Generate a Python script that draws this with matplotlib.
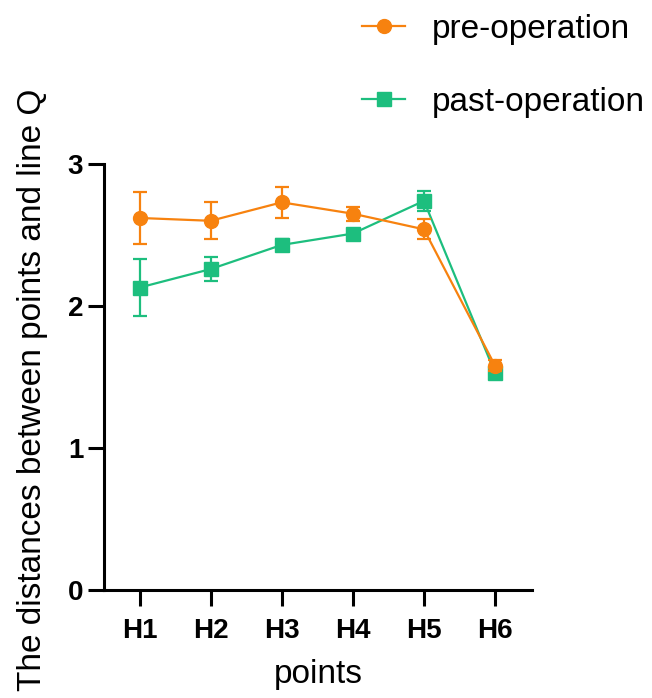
import matplotlib
matplotlib.use("Agg")
import matplotlib.pyplot as plt
from matplotlib.lines import Line2D

points = ["H1", "H2", "H3", "H4", "H5", "H6"]
pre_mean = [2.62, 2.60, 2.73, 2.65, 2.54, 1.58]
pre_err = [0.18, 0.13, 0.11, 0.05, 0.07, 0.04]
past_mean = [2.13, 2.26, 2.43, 2.51, 2.74, 1.53]
past_err = [0.20, 0.085, 0.045, 0.02, 0.07, 0.02]
yticks = [0, 1, 2, 3]

orange = "#F7820F"
green = "#1DBE7E"

plt.rcParams['font.family'] = ['Liberation Sans', 'DejaVu Sans']

fig = plt.figure(figsize=(6.52, 6.98), dpi=100)
ax = fig.add_axes([104/652, 1-590/698, (532-104)/652, (590-164)/698])

x = list(range(len(points)))
ax.errorbar(x, pre_mean, yerr=pre_err, color=orange, marker='o', markersize=10,
            linewidth=1.6, elinewidth=1.6, capsize=5, capthick=1.6,
            clip_on=False, zorder=3)
ax.errorbar(x, past_mean, yerr=past_err, color=green, marker='s', markersize=9.5,
            linewidth=1.6, elinewidth=1.6, capsize=5, capthick=1.6,
            clip_on=False, zorder=2)

ax.set_xlim(-0.5, 5.52)
ax.set_ylim(0, 3)
ax.set_xticks(x)
ax.set_xticklabels(points, fontsize=20, fontweight='bold')
ax.set_yticks(yticks)
ax.set_yticklabels([str(v) for v in yticks], fontsize=20, fontweight='bold')
for s in ['top', 'right']:
    ax.spines[s].set_visible(False)
for s in ['left', 'bottom']:
    ax.spines[s].set_linewidth(2.2)
ax.tick_params(axis='both', width=2.2, length=11.5)
ax.tick_params(axis='x', pad=9)
ax.tick_params(axis='y', pad=3.5)
ax.set_xlabel('points', fontsize=24)
ax.xaxis.set_label_coords(0.5, -0.162)
ax.set_ylabel('The distances between points and line Q', fontsize=24)
ax.yaxis.set_label_coords(-0.131, 0.469)

handles = [
    Line2D([], [], color=orange, marker='o', markersize=10, linewidth=1.6),
    Line2D([], [], color=green, marker='s', markersize=9.5, linewidth=1.6),
]
labels = ['pre-operation', 'past-operation']
fig.legend(handles, labels, loc='upper left', bbox_to_anchor=(362/652, 0.98),
           frameon=False, fontsize=24, handlelength=1.3, handletextpad=0.8,
           labelspacing=1.25, borderpad=0, borderaxespad=0)

fig.savefig('out.png', dpi=100)
